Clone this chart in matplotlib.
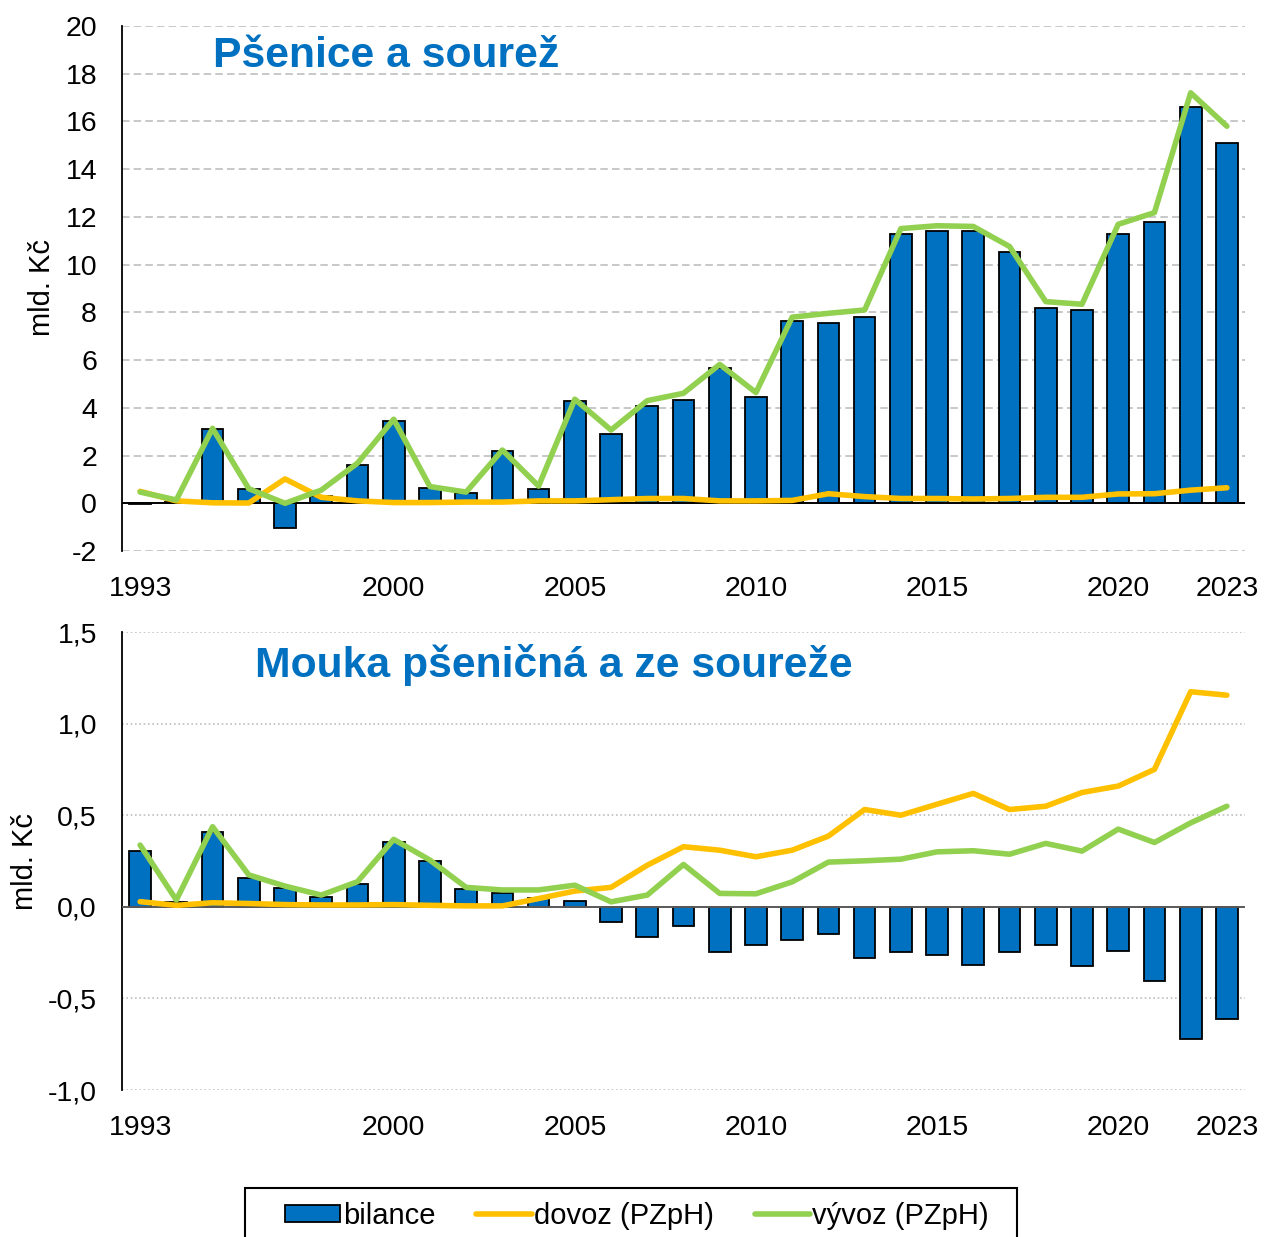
import matplotlib
matplotlib.use("Agg")
import matplotlib.pyplot as plt
import numpy as np
from matplotlib.patches import Rectangle, Patch
from matplotlib.lines import Line2D

plt.rcParams['font.family'] = ['Liberation Sans', 'DejaVu Sans']

years = list(range(1993, 2024))
tick_years = [1993, 2000, 2005, 2010, 2015, 2020, 2023]

# Pšenice a sourež (mld. Kč)
bil_w = [-0.03, 0.05, 3.10, 0.59, -1.02, 0.30, 1.60, 3.46, 0.65, 0.42, 2.18, 0.61,
         4.27, 2.89, 4.08, 4.33, 5.68, 4.47, 7.63, 7.57, 7.82, 11.29, 11.41, 11.41,
         10.55, 8.17, 8.10, 11.29, 11.78, 16.62, 15.10]
dov_w = [0.50, 0.10, 0.02, 0.01, 1.02, 0.25, 0.10, 0.03, 0.03, 0.05, 0.05, 0.10,
         0.10, 0.15, 0.20, 0.20, 0.10, 0.10, 0.12, 0.40, 0.28, 0.20, 0.20, 0.18,
         0.20, 0.25, 0.25, 0.39, 0.40, 0.55, 0.65]
vyv_w = [0.47, 0.14, 3.14, 0.61, 0.00, 0.55, 1.68, 3.52, 0.70, 0.47, 2.23, 0.72,
         4.36, 3.07, 4.30, 4.61, 5.82, 4.64, 7.80, 7.96, 8.10, 11.51, 11.63, 11.60,
         10.76, 8.45, 8.34, 11.69, 12.18, 17.20, 15.80]

# Mouka pšeničná a ze soureže (mld. Kč)
bil_m = [0.305, 0.028, 0.41, 0.155, 0.10, 0.055, 0.124, 0.355, 0.248, 0.099, 0.074,
         0.046, 0.033, -0.082, -0.166, -0.104, -0.247, -0.209, -0.182, -0.147, -0.28,
         -0.246, -0.262, -0.315, -0.249, -0.211, -0.324, -0.242, -0.406, -0.719, -0.611]
dov_m = [0.028, 0.008, 0.022, 0.018, 0.012, 0.010, 0.010, 0.012, 0.008, 0.005, 0.005,
         0.045, 0.086, 0.106, 0.227, 0.328, 0.309, 0.273, 0.309, 0.386, 0.531,
         0.500, 0.560, 0.619, 0.531, 0.549, 0.624, 0.659, 0.750, 1.174, 1.155]
vyv_m = [0.337, 0.037, 0.437, 0.174, 0.113, 0.064, 0.137, 0.368, 0.255, 0.106, 0.092,
         0.092, 0.118, 0.027, 0.064, 0.231, 0.073, 0.071, 0.136, 0.244, 0.251,
         0.260, 0.300, 0.306, 0.287, 0.346, 0.304, 0.424, 0.351, 0.458, 0.549]

BLUE = '#0070C0'
ORANGE = '#FFC000'
GREEN = '#92D050'

W, H = 1266, 1237
fig = plt.figure(figsize=(W / 100, H / 100), dpi=100)

def fx(px):
    return px / W

def fy(py):
    return 1 - py / H

x = np.arange(len(years))
tick_idx = [years.index(y) for y in tick_years]


def setup(ax, bil, dov, vyv, ylim, yticks, yticklabels, grid_style):
    for yt in yticks:
        if yt == 0:
            continue
        ax.axhline(yt, color='#BFBFBF', lw=1.2, zorder=0, **grid_style)
    ax.bar(x, bil, width=0.6, color=BLUE, edgecolor='black', linewidth=1.3, zorder=2)
    ax.plot(x, dov, color=ORANGE, lw=4.0, solid_capstyle='round',
            solid_joinstyle='round', zorder=4)
    ax.plot(x, vyv, color=GREEN, lw=4.0, solid_capstyle='round',
            solid_joinstyle='round', zorder=5)
    ax.set_xlim(-0.5, len(years) - 0.5)
    ax.set_ylim(*ylim)
    ax.set_yticks(yticks)
    ax.set_yticklabels(yticklabels)
    ax.set_xticks(tick_idx)
    ax.set_xticklabels([str(y) for y in tick_years])
    ax.tick_params(axis='both', length=0, labelsize=20.5)
    ax.tick_params(axis='y', pad=18)
    ax.tick_params(axis='x', pad=18)
    for s in ['top', 'right', 'bottom']:
        ax.spines[s].set_visible(False)
    ax.spines['left'].set_color('black')
    ax.spines['left'].set_linewidth(1.3)


# Top chart
ax1 = fig.add_axes([fx(122), fy(551), fx(1245) - fx(122), fy(26) - fy(551)])
yt1 = list(range(-2, 21, 2))
setup(ax1, bil_w, dov_w, vyv_w, (-2, 20), yt1, [str(v) for v in yt1],
      dict(linestyle=(0, (4.5, 2.5))))
ax1.axhline(0, color='black', lw=1.4, zorder=3)

# Bottom chart
ax2 = fig.add_axes([fx(122), fy(1090), fx(1245) - fx(122), fy(632) - fy(1090)])
yt2 = [-1.0, -0.5, 0.0, 0.5, 1.0, 1.5]
setup(ax2, bil_m, dov_m, vyv_m, (-1.0, 1.5), yt2,
      [f"{v:.1f}".replace('.', ',') for v in yt2],
      dict(linestyle=(0, (1, 1.6))))
ax2.axhline(0, color='#595959', lw=1.4, zorder=3)

# Titles
fig.text(fx(213), fy(67), 'Pšenice a sourež', color=BLUE, fontsize=30.7,
         fontweight='bold', ha='left', va='baseline')
fig.text(fx(255), fy(677), 'Mouka pšeničná a ze soureže', color=BLUE, fontsize=30.7,
         fontweight='bold', ha='left', va='baseline')

# Y labels
fig.text(fx(42), fy(288), 'mld. Kč', rotation=90, fontsize=21, ha='center', va='center')
fig.text(fx(25), fy(862), 'mld. Kč', rotation=90, fontsize=21, ha='center', va='center')

# Legend frame
fig.patches.append(Rectangle((fx(245), fy(1260)), fx(1017) - fx(245), fy(1188) - fy(1260),
                             transform=fig.transFigure, fill=False, edgecolor='black',
                             linewidth=1.5, zorder=1))
handles = [Patch(facecolor=BLUE, edgecolor='black', linewidth=1.3),
           Line2D([], [], color=ORANGE, lw=4.0, solid_capstyle='round'),
           Line2D([], [], color=GREEN, lw=4.0, solid_capstyle='round')]
labels = ['bilance', 'dovoz (PZpH)', 'vývoz (PZpH)']
fig.legend(handles, labels, loc='center left', bbox_to_anchor=(fx(285), fy(1216)),
           bbox_transform=fig.transFigure, ncol=3, frameon=False, fontsize=21,
           borderpad=0, borderaxespad=0, handlelength=1.9, handleheight=0.55,
           handletextpad=0.08, columnspacing=1.4)

fig.savefig('out.png', dpi=100)
